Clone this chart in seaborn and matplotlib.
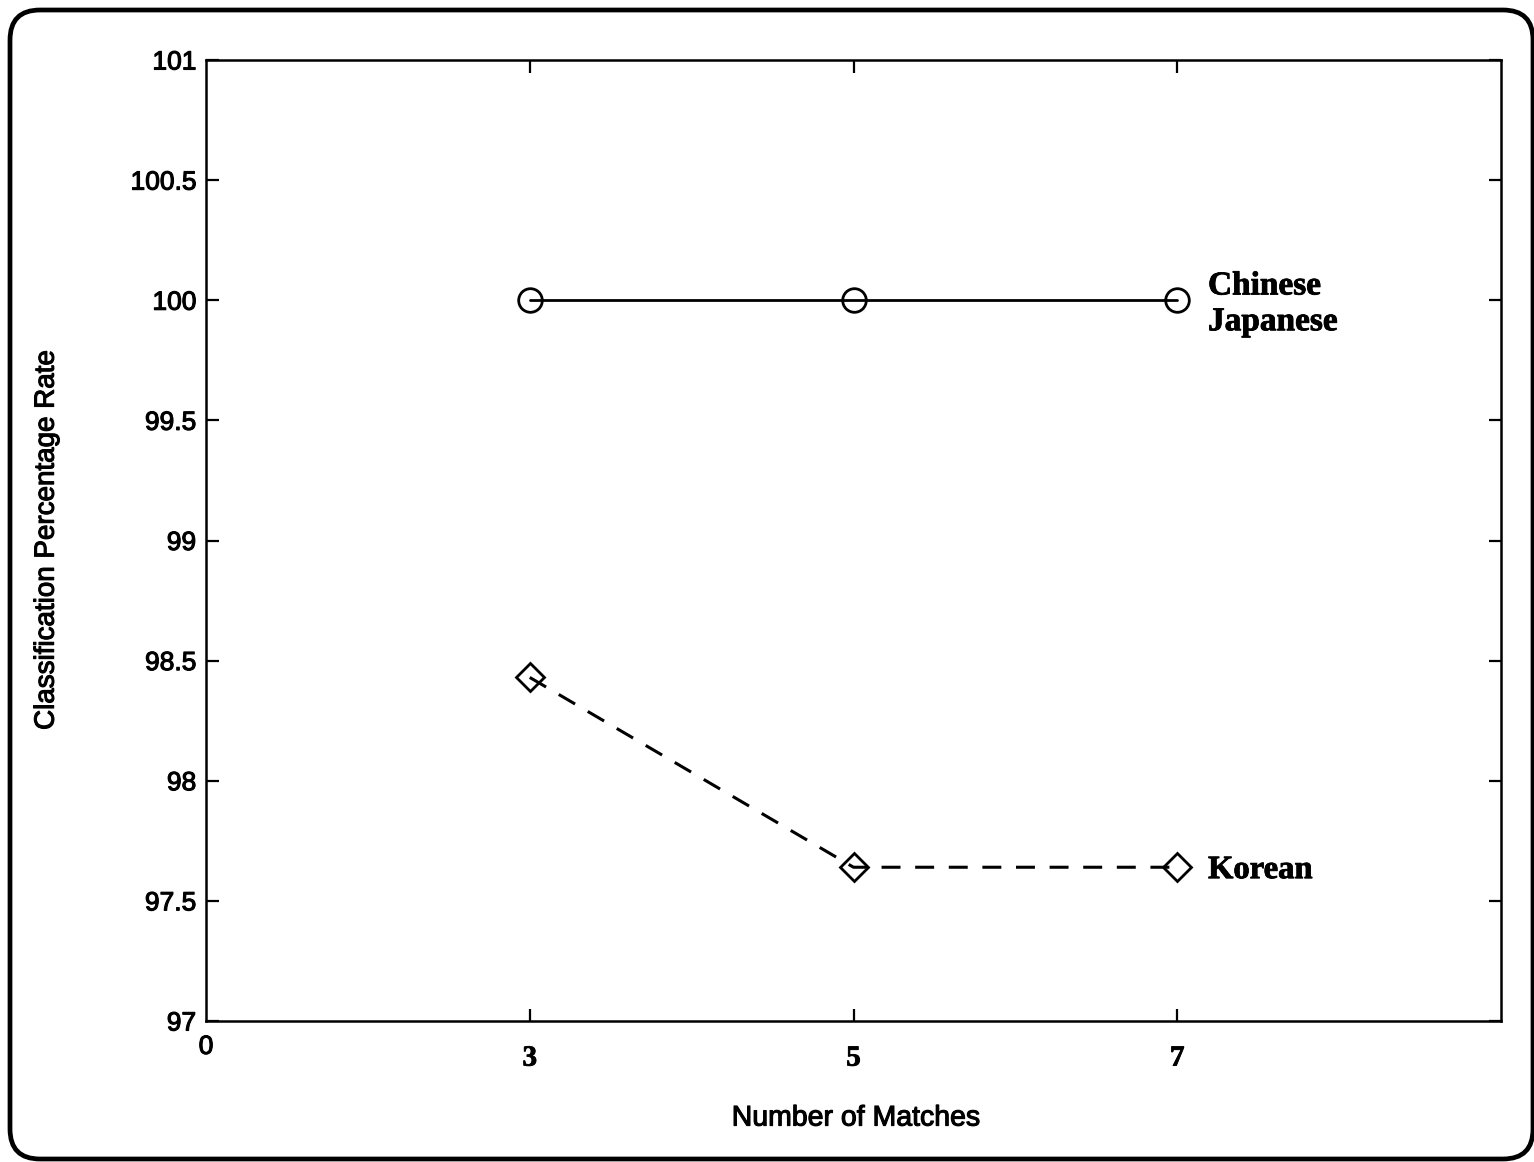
import matplotlib
matplotlib.use("Agg")
import matplotlib.pyplot as plt
import matplotlib.patheffects as pe
import numpy as np
import pandas as pd
import seaborn as sns
from matplotlib.patches import FancyBboxPatch

# Classification rate by number of matches
matches = [3, 5, 7]
chinese_japanese = [100.0, 100.0, 100.0]
korean = [98.43, 97.64, 97.64]

y_ticks = [97, 97.5, 98, 98.5, 99, 99.5, 100, 100.5, 101]
y_tick_labels = ["97", "97.5", "98", "98.5", "99", "99.5", "100", "100.5", "101"]
x_tick_labels = ["3", "5", "7"]
x_origin = 1
x_origin_label = "0"

sns.set_style("ticks")
plt.rcParams["font.family"] = ["Liberation Sans", "DejaVu Sans"]
plt.rcParams["text.color"] = "black"
plt.rcParams["axes.labelcolor"] = "black"
plt.rcParams["xtick.color"] = "black"
plt.rcParams["ytick.color"] = "black"

# slightly heavier strokes for text
heavy = [pe.withStroke(linewidth=0.8, foreground="black")]
heavy_serif = [pe.withStroke(linewidth=0.6, foreground="black")]

W, H = 1534, 1162
fig = plt.figure(figsize=(W / 100, H / 100), dpi=100)
fig.patch.set_facecolor("white")

# rounded outer frame, drawn in pixel units on a full-figure overlay
bg = fig.add_axes([0, 0, 1, 1], zorder=0)
bg.set_xlim(0, W)
bg.set_ylim(H, 0)
bg.axis("off")
bg.add_patch(FancyBboxPatch((10, 10), 1523, 1149,
                            boxstyle="round,pad=0,rounding_size=30",
                            fill=False, lw=3.4, ec="black"))

ax = fig.add_axes([206 / W, 1 - 1021 / H, 1295 / W, 961 / H], zorder=1)

df_cj = pd.DataFrame({"matches": matches, "rate": chinese_japanese})
df_ko = pd.DataFrame({"matches": matches, "rate": korean})

sns.lineplot(data=df_cj, x="matches", y="rate", ax=ax, color="black",
             lw=2.0, marker="o", ms=17, mfc="none", mec="black", mew=2.0)
sns.lineplot(data=df_ko, x="matches", y="rate", ax=ax, color="black",
             lw=2.2, marker="D", ms=14.5, mfc="none", mec="black", mew=2.0)
ax.lines[-1].set_dashes((6.2, 4.8))

ax.set_xlim(1, 9)
ax.set_ylim(97, 101)
ax.set_xticks(matches)
ax.set_xticklabels(x_tick_labels, fontfamily="Liberation Serif",
                   fontweight="bold", fontsize=21)
for lab in ax.get_xticklabels():
    lab.set_path_effects(heavy_serif)
ax.set_yticks(y_ticks)
ax.set_yticklabels(y_tick_labels, fontsize=19)
for lab in ax.get_yticklabels():
    lab.set_path_effects(heavy)
ax.tick_params(direction="in", length=9, width=1.6, top=True, right=True)
ax.tick_params(axis="x", pad=17)
ax.tick_params(axis="y", pad=7)
for s in ax.spines.values():
    s.set_linewidth(1.8)
    s.set_color("black")

ax.set_xlabel("Number of Matches", fontsize=20.5, path_effects=heavy)
ax.xaxis.set_label_coords(0.502, -0.088)
ax.set_ylabel("Classification Percentage Rate", fontsize=20, path_effects=heavy)
ax.yaxis.set_label_coords(-0.113, 0.5)

# origin label under the lower-left corner
ax.text(x_origin, -0.027, x_origin_label, transform=ax.get_xaxis_transform(),
        ha="center", va="center", fontsize=19, path_effects=heavy)

# series labels next to the last point
ax.text(7.19, chinese_japanese[-1] - 0.015, "Chinese\nJapanese", ha="left",
        va="center", fontfamily="Liberation Serif", fontweight="bold",
        fontsize=24, linespacing=1.2, path_effects=heavy_serif)
ax.text(7.19, korean[-1] - 0.01, "Korean", ha="left", va="center",
        fontfamily="Liberation Serif", fontweight="bold", fontsize=23.5,
        path_effects=heavy_serif)

fig.savefig("out.png", dpi=100)
